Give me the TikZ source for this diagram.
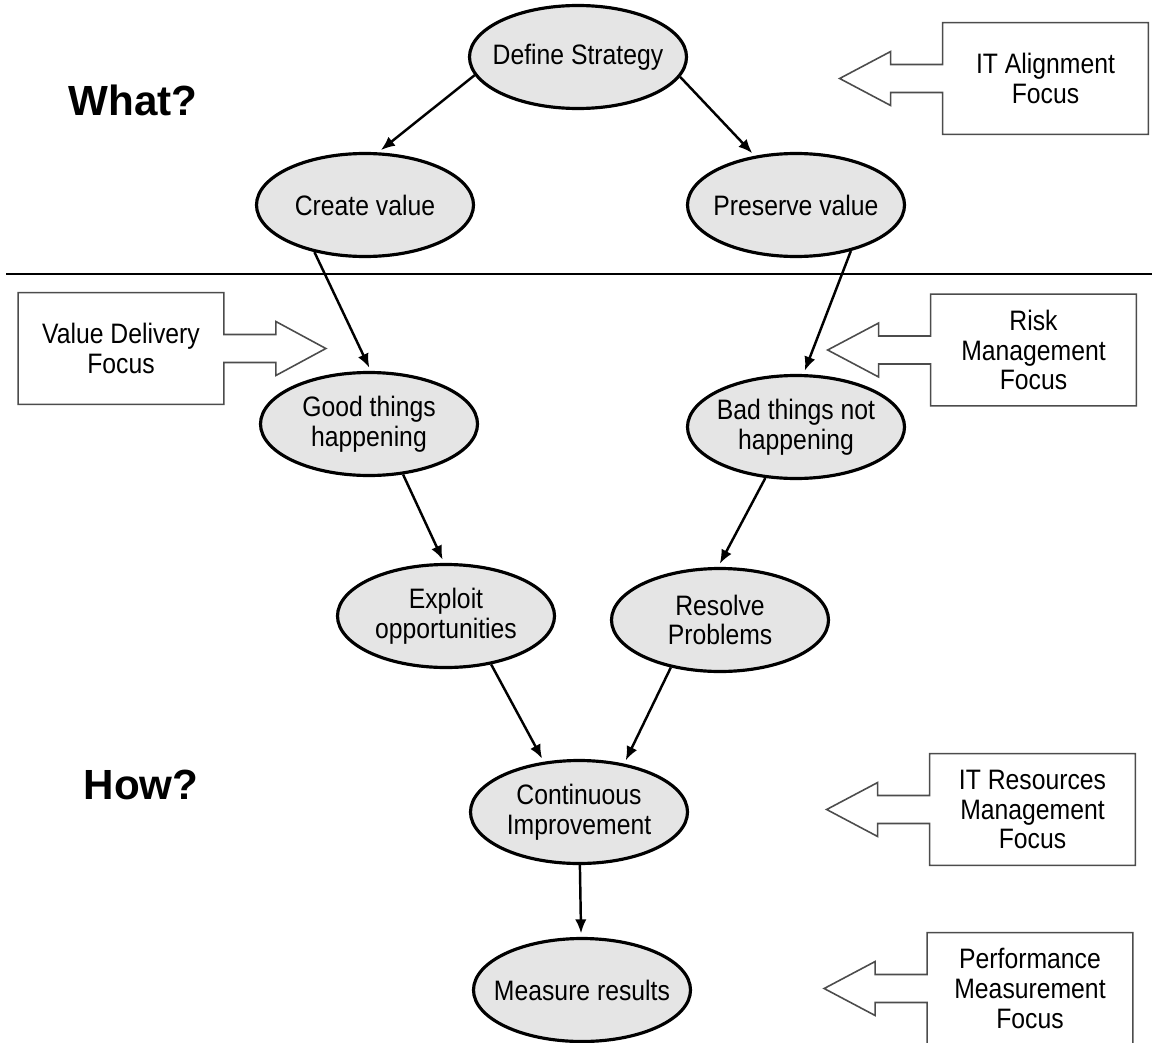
\documentclass[tikz,border=0pt]{standalone}
\usepackage{fontspec}
\setmainfont{Liberation Sans}[FakeStretch=0.88]
\newfontfamily\headfont{Liberation Sans}
\usetikzlibrary{arrows.meta,shapes.geometric}
\tikzset{arrow/.style={->, >={Latex[length=8pt,width=6.5pt]}, line width=1.4pt, shorten >=2pt}}
\tikzset{goal/.style={ellipse, draw, line width=1.8pt, fill=black!10, minimum width=43.4mm, minimum height=20.6mm, inner xsep=-3mm, inner ysep=0pt, align=center, font=\fontsize{16}{17}\selectfont}}
\tikzset{focus/.style={draw=black!70, line width=0.9pt}}
\tikzset{focustext/.style={minimum width=41mm, minimum height=22.2mm, inner sep=0pt, align=center, font=\fontsize{16}{17}\selectfont}}
\tikzset{question/.style={font=\headfont\bfseries\fontsize{24}{26}\selectfont}}
\newcommand{\focusleft}[1]{%
  \draw[focus] (#1.north east) -- (#1.north west) -- ([shift={(0,-14)}]#1.west) -- ++(-52,0) -- ++(0,-13) -- ++(-51,27) -- ++(51,27) -- ++(0,-13) -- ++(52,0) -- (#1.south west) -- (#1.south east) -- cycle;}
\newcommand{\focusright}[1]{%
  \draw[focus] (#1.north west) -- (#1.north east) -- ([shift={(0,-14)}]#1.east) -- ++(52,0) -- ++(0,-13) -- ++(50,27) -- ++(-50,27) -- ++(0,-13) -- ++(-52,0) -- (#1.south east) -- (#1.south west) -- cycle;}

\begin{document}
\begin{tikzpicture}[x=0.2mm, y=-0.2mm]
    \clip (0, 0) rectangle (1152, 1042);
    \node[question] (what) at (133, 100) {What?};
    \node[question] (how) at (141, 785) {How?};
    \draw[line width=1.6pt] (6, 274) -- (1152, 274);

    \node[goal] (define) at (578, 57) {Define Strategy};
    \node[goal] (create) at (365, 205) {Create value};
    \node[goal] (preserve) at (796, 205) {Preserve value};
    \node[goal] (good) at (369, 424) {Good things\\happening};
    \node[goal] (bad) at (796, 427) {Bad things not\\happening};
    \node[goal] (exploit) at (446, 616) {Exploit\\opportunities};
    \node[goal] (resolve) at (720, 620) {Resolve\\Problems};
    \node[goal] (improve) at (579, 812) {Continuous\\Improvement};
    \node[goal] (measure) at (582, 990) {Measure results};

    \draw[arrow] (define.190) to (create.76);
    \draw[arrow] (define.-11) to (preserve.130);
    \draw[arrow] (create.223) to (good.88);
    \draw[arrow] (preserve.-40) to (bad.82);
    \draw[arrow] (good.-56) to (exploit.92);
    \draw[arrow] (bad.239) to (resolve.92);
    \draw[arrow] (exploit.-47) to (improve.125);
    \draw[arrow] (resolve.224) to (improve.47);
    \draw[arrow] (improve) to (measure);

    \node[focustext] (align) at (1045.5, 78.5) {IT Alignment\\Focus};
    \node[focustext] (delivery) at (121, 348.5) {Value Delivery\\Focus};
    \node[focustext] (risk) at (1033.5, 350) {Risk\\Management\\Focus};
    \node[focustext] (resources) at (1032.5, 809.5) {IT Resources\\Management\\Focus};
    \node[focustext] (perform) at (1030, 988.5) {Performance\\Measurement\\Focus};
    \focusleft{align}
    \focusright{delivery}
    \focusleft{risk}
    \focusleft{resources}
    \focusleft{perform}
\end{tikzpicture}
\end{document}
